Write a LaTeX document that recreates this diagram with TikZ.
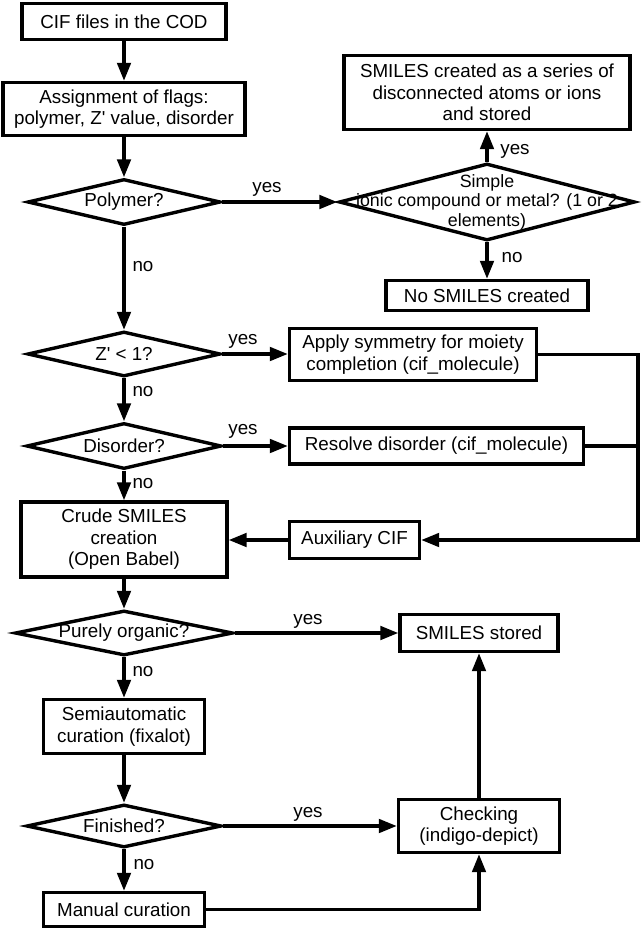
\documentclass[tikz,border=0pt]{standalone}
\usepackage{fontspec}
\setmainfont{Liberation Sans}
\usetikzlibrary{shapes.geometric,arrows.meta}
\begin{document}
\begin{tikzpicture}[x=1pt,y=-1pt,
  line width=3.4pt,
  every node/.style={font=\fontsize{18.8}{21.5}\selectfont},
  box/.style={draw, rectangle, align=center, inner sep=0pt},
  dia/.style={draw, diamond, inner sep=0pt},
  dtext/.style={align=center, inner sep=0pt},
  lbl/.style={anchor=base, inner sep=0pt},
  arr/.style={-{Triangle[length=18pt,width=13.5pt]}}
]
\useasboundingbox (0,0) rectangle (641,930);

% main column
\node[box, minimum width=204, minimum height=36] (b1) at (124,21.5) {CIF files in the COD};
\node[box, minimum width=242, minimum height=53] (b2) at (124,109) {Assignment of flags:\\polymer, Z\textquotesingle{} value, disorder};
\node[dia, minimum width=193, minimum height=46, label={[dtext]center:{Polymer?}}] (d1) at (124,202) {};
\node[dia, minimum width=193, minimum height=45, label={[dtext]center:{Z\textquotesingle{} < 1?}}] (d3) at (124,354) {};
\node[dia, minimum width=195, minimum height=46, label={[dtext]center:{Disorder?}}] (d4) at (124,446) {};
\node[box, minimum width=206, minimum height=75] (b7) at (124,539.5) {Crude SMILES\\creation\\(Open Babel)};
\node[dia, minimum width=218, minimum height=45, label={[dtext]center:{Purely organic?}}] (d5) at (124,633) {};
\node[box, minimum width=161, minimum height=54] (b10) at (124,726.5) {Semiautomatic\\curation (fixalot)};
\node[dia, minimum width=195, minimum height=43, label={[dtext]center:{Finished?}}] (d6) at (124,826) {};
\node[box, minimum width=161, minimum height=34] (b12) at (124,909.5) {Manual curation};

% right column
\node[box, minimum width=286, minimum height=74] (b3) at (487,92.5) {SMILES created as a series of\\disconnected atoms or ions\\and stored};
\node[dia, minimum width=296, minimum height=77, label={[dtext, font=\fontsize{17.8}{19.5}\selectfont]center:{Simple\\ionic compound or metal? (1 or 2\\elements)}}] (d2) at (487,202) {};
\node[box, minimum width=202, minimum height=30] (b4) at (487,295.5) {No SMILES created};
\node[box, minimum width=247, minimum height=52] (b5) at (413,354.5) {Apply symmetry for moiety\\completion (cif\_molecule)};
\node[box, minimum width=294, minimum height=36] (b6) at (436.5,446) {Resolve disorder (cif\_molecule)};
\node[box, minimum width=130, minimum height=37] (b8) at (354.5,540) {Auxiliary CIF};
\node[box, minimum width=158, minimum height=37] (b9) at (479,633) {SMILES stored};
\node[box, minimum width=161, minimum height=53] (b11) at (479,826) {Checking\\(indigo-depict)};

\coordinate (rt) at (638,354.5);
\coordinate (rb) at (638,540);

% connectors
\draw[arr] (b1) -- (b2);
\draw[arr] (b2) -- (d1);
\draw[arr] (d1) -- (d3);
\draw[arr] (d3) -- (d4);
\draw[arr] (d4) -- (b7);
\draw[arr] (b7) -- (d5);
\draw[arr] (d5) -- (b10);
\draw[arr] (b10) -- (d6);
\draw[arr] (d6) -- (b12);
\draw[arr] (d1.east) -- (d2.west);
\draw[arr] (d2.north) -- (b3.south);
\draw[arr] (d2.south) -- (b4.north);
\draw[arr] (d3.east) -- (d3.east -| b5.west);
\draw[arr] (d4.east) -- (d4.east -| b6.west);
\draw[arr] (b5.east) -- (rt) -- (rb) -- (b8.east);
\draw (b6.east) -- (b6.east -| rt);
\draw[arr] (b8.west) -- (b8.west -| b7.east);
\draw[arr] (d5.east) -- (d5.east -| b9.west);
\draw[arr] (d6.east) -- (d6.east -| b11.west);
\draw[arr] (b11) -- (b9);
\draw[arr] (b12.east) -| (b11.south);

% labels
\node[lbl] (y1) at (267,192) {yes};
\node[lbl] (n1) at (143,271) {no};
\node[lbl] (y2) at (515,154) {yes};
\node[lbl] (n2) at (512,262) {no};
\node[lbl] (y3) at (243,344) {yes};
\node[lbl] (n3) at (143,396) {no};
\node[lbl] (y4) at (243,434) {yes};
\node[lbl] (n4) at (143,488) {no};
\node[lbl] (y5) at (308,624) {yes};
\node[lbl] (n5) at (143,676) {no};
\node[lbl] (y6) at (308,817) {yes};
\node[lbl] (n6) at (144,869) {no};
\end{tikzpicture}
\end{document}
